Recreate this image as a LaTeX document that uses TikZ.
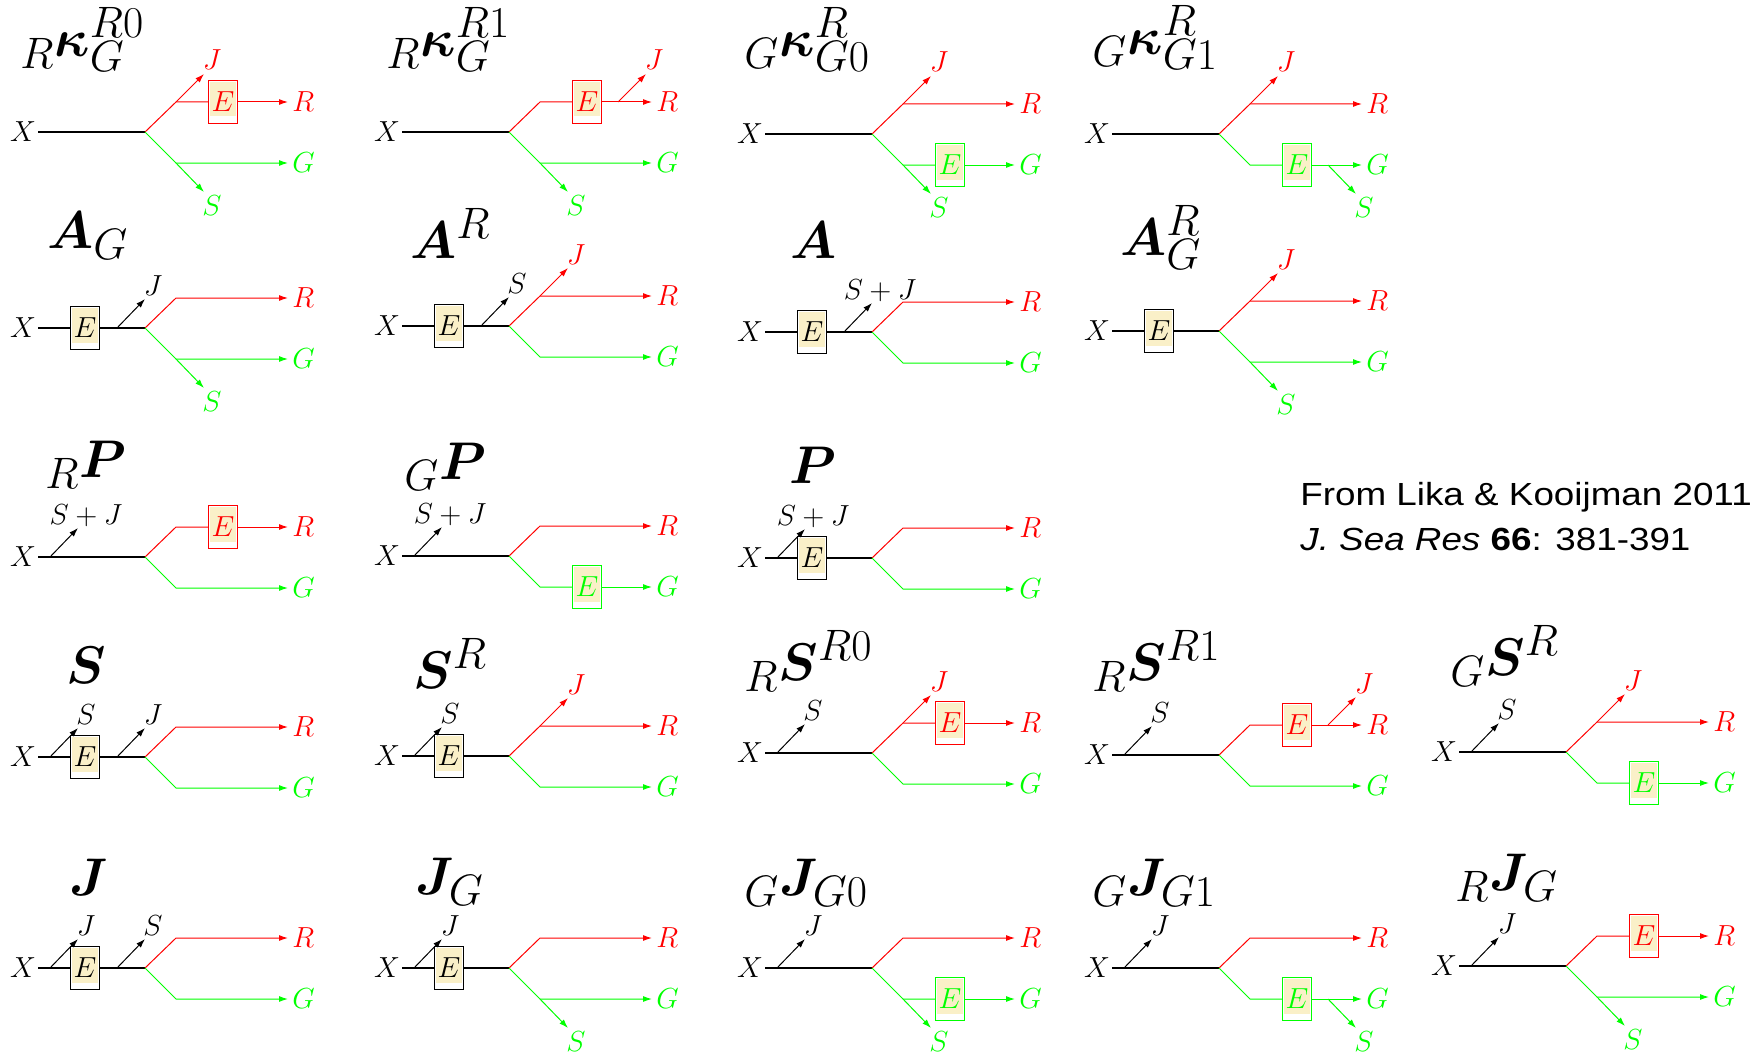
\RequirePackage{fix-cm}
\documentclass[tikz,border=0pt]{standalone}
\usepackage{bm}
\usepackage{fontspec}
\newfontfamily\citefont[FakeStretch=1.15]{Liberation Sans}
\DeclareMathSizes{26.5}{26.5}{22}{17}
\usetikzlibrary{arrows.meta}
\definecolor{efill}{RGB}{250,240,200}
\definecolor{gr}{RGB}{0,255,0}
\definecolor{rd}{RGB}{255,0,0}
\tikzset{
  lbl/.style={font=\fontsize{14.5}{17}\selectfont, inner sep=1pt},
  xlbl/.style={lbl},
  endlbl/.style={lbl, anchor=west, inner sep=2pt},
  tlbl/.style={lbl, anchor=base, inner sep=0pt},
  ebox/.style={lbl, minimum width=14.5pt, minimum height=21.5pt, inner sep=0pt, line width=0.5pt,
    path picture={\fill[efill] ([xshift=0.6pt,yshift=-0.6pt]path picture bounding box.north west) rectangle ([xshift=-0.6pt,yshift=3.5pt]path picture bounding box.south east);}},
  mline/.style={line width=0.6pt, black},
  rline/.style={line width=0.5pt, rd},
  gline/.style={line width=0.5pt, gr},
  sarrow/.style={line width=0.5pt, black, ->},
  ttl/.style={font=\fontsize{26.5}{31}\selectfont, inner sep=0pt, anchor=base west},
  cite/.style={font=\citefont\fontsize{16}{19}\selectfont, inner sep=0pt, anchor=base west},
  >={Latex[length=4.5pt,width=3pt]}
}
% panel skeleton
\newcommand\basic[1]{%
  \node[xlbl] (#1X) at (0,0) {$X$};
  \coordinate (#1b) at (122,0);
  \coordinate (#1u) at (153,-30);
  \coordinate (#1d) at (153,31);
  \node[endlbl,text=rd] (#1R) at (265,-30) {$R$};
  \node[endlbl,text=gr] (#1G) at (265,31) {$G$};
}
\newcommand\mainP[1]{\draw[mline] (#1X) -- (#1b);}
\newcommand\mainE[1]{\node[ebox,draw=black] (#1E) at (62,0) {$E$};
  \draw[mline] (#1X) -- (#1E) -- (#1b);}
\newcommand\side[4]{%
  \coordinate (#1#2s) at (#3,0);
  \coordinate (#1#2t) at ({#3+28},-29);
  \draw[sarrow] (#1#2s) -- (#1#2t);
  \node[tlbl] (#1#2L) at ({#3+36},-33) {$#4$};}
\newcommand\upline[1]{\draw[rline,->] (#1b) -- (#1u) -- (#1R);}
\newcommand\upEline[1]{\node[ebox,draw=rd,text=rd] (#1Eu) at (200,-30) {$E$};
  \draw[rline] (#1b) -- (#1u) -- (#1Eu);
  \draw[rline,->] (#1Eu) -- (#1R);}
\newcommand\upJbend[1]{\coordinate (#1Jt) at (181,-58);
  \draw[rline,->] (#1u) -- (#1Jt);
  \node[tlbl,text=rd] (#1J) at (189,-62) {$J$};}
\newcommand\upJafter[1]{\coordinate (#1Js) at (231,-30);
  \coordinate (#1Jt) at (259,-58);
  \draw[rline,->] (#1Js) -- (#1Jt);
  \node[tlbl,text=rd] (#1J) at (267,-62) {$J$};}
\newcommand\dnline[1]{\draw[gline,->] (#1b) -- (#1d) -- (#1G);}
\newcommand\dnEline[1]{\node[ebox,draw=gr,text=gr] (#1Ed) at (200,31) {$E$};
  \draw[gline] (#1b) -- (#1d) -- (#1Ed);
  \draw[gline,->] (#1Ed) -- (#1G);}
\newcommand\dnSbend[1]{\coordinate (#1St) at (181,60);
  \draw[gline,->] (#1d) -- (#1St);
  \node[tlbl,text=gr] (#1S) at (189,83) {$S$};}
\newcommand\dnSafter[1]{\coordinate (#1Ss) at (231,31);
  \coordinate (#1St) at (259,60);
  \draw[gline,->] (#1Ss) -- (#1St);
  \node[tlbl,text=gr] (#1S) at (267,83) {$S$};}
\begin{document}
\begin{tikzpicture}[x=0.5pt,y=-0.5pt]
\useasboundingbox (0,0) rectangle (1754,1054);
% ---------- row 1
\begin{scope}[shift={(23,132)}]
  \basic{p11}\mainP{p11}\upEline{p11}\upJbend{p11}\dnline{p11}\dnSbend{p11}
\end{scope}
\begin{scope}[shift={(387,132)}]
  \basic{p12}\mainP{p12}\upEline{p12}\upJafter{p12}\dnline{p12}\dnSbend{p12}
\end{scope}
\begin{scope}[shift={(750,134)}]
  \basic{p13}\mainP{p13}\upline{p13}\upJbend{p13}\dnEline{p13}\dnSbend{p13}
\end{scope}
\begin{scope}[shift={(1097,134)}]
  \basic{p14}\mainP{p14}\upline{p14}\upJbend{p14}\dnEline{p14}\dnSafter{p14}
\end{scope}
% ---------- row 2
\begin{scope}[shift={(23,328)}]
  \basic{p21}\mainE{p21}\side{p21}{a}{94}{J}\upline{p21}\dnline{p21}\dnSbend{p21}
\end{scope}
\begin{scope}[shift={(387,326)}]
  \basic{p22}\mainE{p22}\side{p22}{a}{94}{S}\upline{p22}\upJbend{p22}\dnline{p22}
\end{scope}
\begin{scope}[shift={(750,332)}]
  \basic{p23}\mainE{p23}\side{p23}{a}{94}{S+J}\upline{p23}\dnline{p23}
\end{scope}
\begin{scope}[shift={(1097,331)}]
  \basic{p24}\mainE{p24}\upline{p24}\upJbend{p24}\dnline{p24}\dnSbend{p24}
\end{scope}
% ---------- row 3
\begin{scope}[shift={(23,557)}]
  \basic{p31}\mainP{p31}\side{p31}{a}{27}{S+J}\upEline{p31}\dnline{p31}
\end{scope}
\begin{scope}[shift={(387,556)}]
  \basic{p32}\mainP{p32}\side{p32}{a}{27}{S+J}\upline{p32}\dnEline{p32}
\end{scope}
\begin{scope}[shift={(750,558)}]
  \basic{p33}\mainE{p33}\side{p33}{a}{27}{S+J}\upline{p33}\dnline{p33}
\end{scope}
% ---------- row 4
\begin{scope}[shift={(23,757)}]
  \basic{p41}\mainE{p41}\side{p41}{a}{27}{S}\side{p41}{b}{94}{J}\upline{p41}\dnline{p41}
\end{scope}
\begin{scope}[shift={(387,756)}]
  \basic{p42}\mainE{p42}\side{p42}{a}{27}{S}\upline{p42}\upJbend{p42}\dnline{p42}
\end{scope}
\begin{scope}[shift={(750,753)}]
  \basic{p43}\mainP{p43}\side{p43}{a}{27}{S}\upEline{p43}\upJbend{p43}\dnline{p43}
\end{scope}
\begin{scope}[shift={(1097,755)}]
  \basic{p44}\mainP{p44}\side{p44}{a}{27}{S}\upEline{p44}\upJafter{p44}\dnline{p44}
\end{scope}
\begin{scope}[shift={(1444,752)}]
  \basic{p45}\mainP{p45}\side{p45}{a}{27}{S}\upline{p45}\upJbend{p45}\dnEline{p45}
\end{scope}
% ---------- row 5
\begin{scope}[shift={(23,968)}]
  \basic{p51}\mainE{p51}\side{p51}{a}{27}{J}\side{p51}{b}{94}{S}\upline{p51}\dnline{p51}
\end{scope}
\begin{scope}[shift={(387,968)}]
  \basic{p52}\mainE{p52}\side{p52}{a}{27}{J}\upline{p52}\dnline{p52}\dnSbend{p52}
\end{scope}
\begin{scope}[shift={(750,968)}]
  \basic{p53}\mainP{p53}\side{p53}{a}{27}{J}\upline{p53}\dnEline{p53}\dnSbend{p53}
\end{scope}
\begin{scope}[shift={(1097,968)}]
  \basic{p54}\mainP{p54}\side{p54}{a}{27}{J}\upline{p54}\dnEline{p54}\dnSafter{p54}
\end{scope}
\begin{scope}[shift={(1444,966)}]
  \basic{p55}\mainP{p55}\side{p55}{a}{27}{J}\upEline{p55}\dnline{p55}\dnSbend{p55}
\end{scope}
% ---------- titles
\node[ttl] (t11) at (20,57) {${}_{R}\bm{\kappa}^{R0}_{G}$};
\node[ttl] (t12) at (386,57) {${}_{R}\bm{\kappa}^{R1}_{G}$};
\node[ttl] (t13) at (744,57) {${}_{G}\bm{\kappa}^{R}_{G0}$};
\node[ttl] (t14) at (1092,55) {${}_{G}\bm{\kappa}^{R}_{G1}$};
\node[ttl] (t21) at (47,248) {$\bm{A}_{G}$};
\node[ttl] (t22) at (410,258) {$\bm{A}^{R}$};
\node[ttl] (t23) at (790,258) {$\bm{A}$};
\node[ttl] (t24) at (1120,255) {$\bm{A}^{R}_{G}$};
\node[ttl] (t31) at (45,477) {${}_{R}\bm{P}$};
\node[ttl] (t32) at (404,479) {${}_{G}\bm{P}$};
\node[ttl] (t33) at (789,483) {$\bm{P}$};
\node[ttl] (t41) at (66,683) {$\bm{S}$};
\node[ttl] (t42) at (413,688) {$\bm{S}^{R}$};
\node[ttl] (t43) at (744,680) {${}_{R}\bm{S}^{R0}$};
\node[ttl] (t44) at (1092,680) {${}_{R}\bm{S}^{R1}$};
\node[ttl] (t45) at (1450,675) {${}_{G}\bm{S}^{R}$};
\node[ttl] (t51) at (69,895) {$\bm{J}$};
\node[ttl] (t52) at (415,894) {$\bm{J}_{G}$};
\node[ttl] (t53) at (744,895) {${}_{G}\bm{J}_{G0}$};
\node[ttl] (t54) at (1092,895) {${}_{G}\bm{J}_{G1}$};
\node[ttl] (t55) at (1455,890) {${}_{R}\bm{J}_{G}$};
% ---------- citation
\node[cite] (c1) at (1300,505) {From Lika \& Kooijman 2011};
\node[cite] (c2) at (1300,550) {\textit{J. Sea Res} \textbf{66}: 381-391};
\end{tikzpicture}
\end{document}
